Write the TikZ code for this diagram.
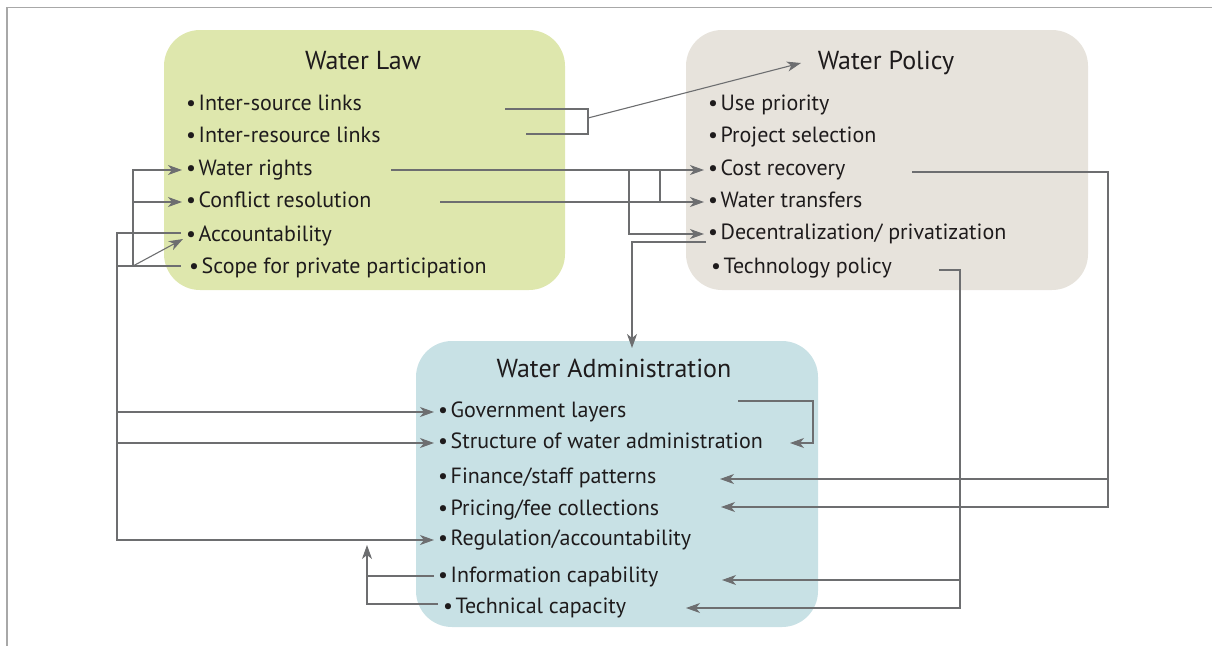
\documentclass[tikz,border=0pt]{standalone}
\usepackage{fontspec}
\setmainfont{PT Sans}
\usetikzlibrary{arrows.meta}
\definecolor{lawc}{RGB}{222,231,173}
\definecolor{polc}{RGB}{231,227,220}
\definecolor{admc}{RGB}{200,225,229}
\definecolor{linec}{RGB}{109,110,112}
\definecolor{framec}{RGB}{168,168,168}
\definecolor{txt}{RGB}{30,27,28}
\begin{document}
\begin{tikzpicture}[x=1pt,y=-1pt,
  box/.style={rounded corners=36pt, inner sep=0pt, draw=none},
  item/.style={anchor=west, inner xsep=4pt, inner ysep=0pt, text height=15pt, text depth=4pt, font=\fontsize{22}{26}\selectfont, text=txt},
  ttl/.style={font=\fontsize{26}{30}\selectfont, text=txt, inner sep=0pt, anchor=base},
  conn/.style={draw=linec, line width=1.1pt},
  arr/.style={conn, -{Stealth[length=14pt,width=10pt,inset=4pt]}}]
\useasboundingbox (0,0) rectangle (1212,646);
% frame
\draw[framec, line width=1.6pt] (7,646) -- (7,7.5) -- (1212,7.5);
% boxes
\fill[lawc, rounded corners=36pt] (164,30) rectangle (565,290);
\fill[polc, rounded corners=36pt] (686,30) rectangle (1088,290);
\fill[admc, rounded corners=36pt] (416,341) rectangle (818,627);
\node[box, minimum width=401pt, minimum height=260pt] (law) at (364.5,160) {};
\node[box, minimum width=402pt, minimum height=260pt] (pol) at (887,160) {};
\node[box, minimum width=402pt, minimum height=286pt] (adm) at (617,484) {};
% titles
\node[ttl] (lawt) at (363,69) {Water Law};
\node[ttl] (polt) at (886,69) {Water Policy};
\node[ttl] (admt) at (614,377) {Water Administration};
% law items
\node[item] (is) at (182,104.5) {•\hspace{2.5pt}Inter-source links};
\node[item] (ir) at (182,136.5) {•\hspace{2.5pt}Inter-resource links};
\node[item] (wr) at (182,170) {•\hspace{2.5pt}Water rights};
\node[item] (cr) at (182,202) {•\hspace{2.5pt}Conflict resolution};
\node[item] (ac) at (182,235.5) {•\hspace{2.5pt}Accountability};
\node[item] (sp) at (185,267.5) {•\hspace{2.5pt}Scope for private participation};
% policy items
\node[item] (up) at (704,104.5) {•\hspace{2.5pt}Use priority};
\node[item] (ps) at (704,136.5) {•\hspace{2.5pt}Project selection};
\node[item] (cs) at (704,170) {•\hspace{2.5pt}Cost recovery};
\node[item] (tf) at (704,202) {•\hspace{2.5pt}Water transfers};
\node[item] (dc) at (704,234) {•\hspace{2.5pt}Decentralization/ privatization};
\node[item] (tp) at (707,267.5) {•\hspace{2.5pt}Technology policy};
% admin items
\node[item] (gl) at (434,412) {•\hspace{2.5pt}Government layers};
\node[item] (st) at (434,443) {•\hspace{2.5pt}Structure of water administration};
\node[item] (fs) at (434,477.5) {•\hspace{2.5pt}Finance/staff patterns};
\node[item] (pf) at (434,509.5) {•\hspace{2.5pt}Pricing/fee collections};
\node[item] (rg) at (434,540) {•\hspace{2.5pt}Regulation/accountability};
\node[item] (ic) at (434,576.5) {•\hspace{2.5pt}Information capability};
\node[item] (tc) at (439,607.5) {•\hspace{2.5pt}Technical capacity};
% coordinates
\coordinate (isR) at (505,109);
\coordinate (irR) at (526,134);
\coordinate (brk) at (588,118);
\coordinate (polIn) at (801,63);
\coordinate (wrR) at (391,170);
\coordinate (crR) at (440,202);
\coordinate (dcL) at (706,242);
\coordinate (admIn) at (632,348);
\coordinate (csR) at (912,172);
\coordinate (fsIn) at (720,479);
\coordinate (pfIn) at (721,507);
\coordinate (tpR) at (939,270);
\coordinate (icIn) at (722,580);
\coordinate (tcIn) at (686,608);
\coordinate (glR) at (738,401);
\coordinate (stIn) at (790,443);
\coordinate (acL) at (181,233);
\coordinate (spL) at (181,266);
\coordinate (acIn) at (183,239);
\coordinate (icL) at (434,576);
\coordinate (tcL) at (438,604);
\coordinate (techUp) at (367,545);
% bracket law -> policy
\draw[conn] (isR) -- (588,109) -- (588,134) -- (irR);
\draw[arr] (brk) -- (polIn);
% water rights / conflict resolution -> policy
\draw[arr] (wrR) -- (cs.west);
\draw[arr] (crR) -- (tf.west);
\draw[conn] (660,170) -- (660,202);
\draw[arr] (629,170) -- (629,234) -- (dc.west);
% decentralization -> administration
\draw[arr] (dcL) -- (632,242) -- (admIn);
% cost recovery -> finance, pricing
\draw[arr] (csR) -- (1108,172) -- (1108,507) -- (pfIn);
\draw[arr] (1108,479) -- (fsIn);
% technology policy -> information, technical
\draw[arr] (tpR) -- (960,270) -- (960,608) -- (tcIn);
\draw[arr] (960,580) -- (icIn);
% government layers -> structure
\draw[arr] (glR) -- (813,401) -- (813,443) -- (stIn);
% left side: scope -> water rights, conflict, accountability
\draw[arr] (133,266) -- (133,170) -- (wr.west);
\draw[arr] (133,202) -- (cr.west);
\draw[arr] (133,266) -- (acIn);
\draw[conn] (117,266) -- (spL);
% accountability -> administration
\draw[arr] (acL) -- (117,233) -- (117,540) -- (rg.west);
\draw[arr] (117,412) -- (gl.west);
\draw[arr] (117,443) -- (st.west);
% info / technical -> regulation
\draw[conn] (icL) -- (367,576);
\draw[arr] (tcL) -- (367,604) -- (techUp);
\end{tikzpicture}
\end{document}
